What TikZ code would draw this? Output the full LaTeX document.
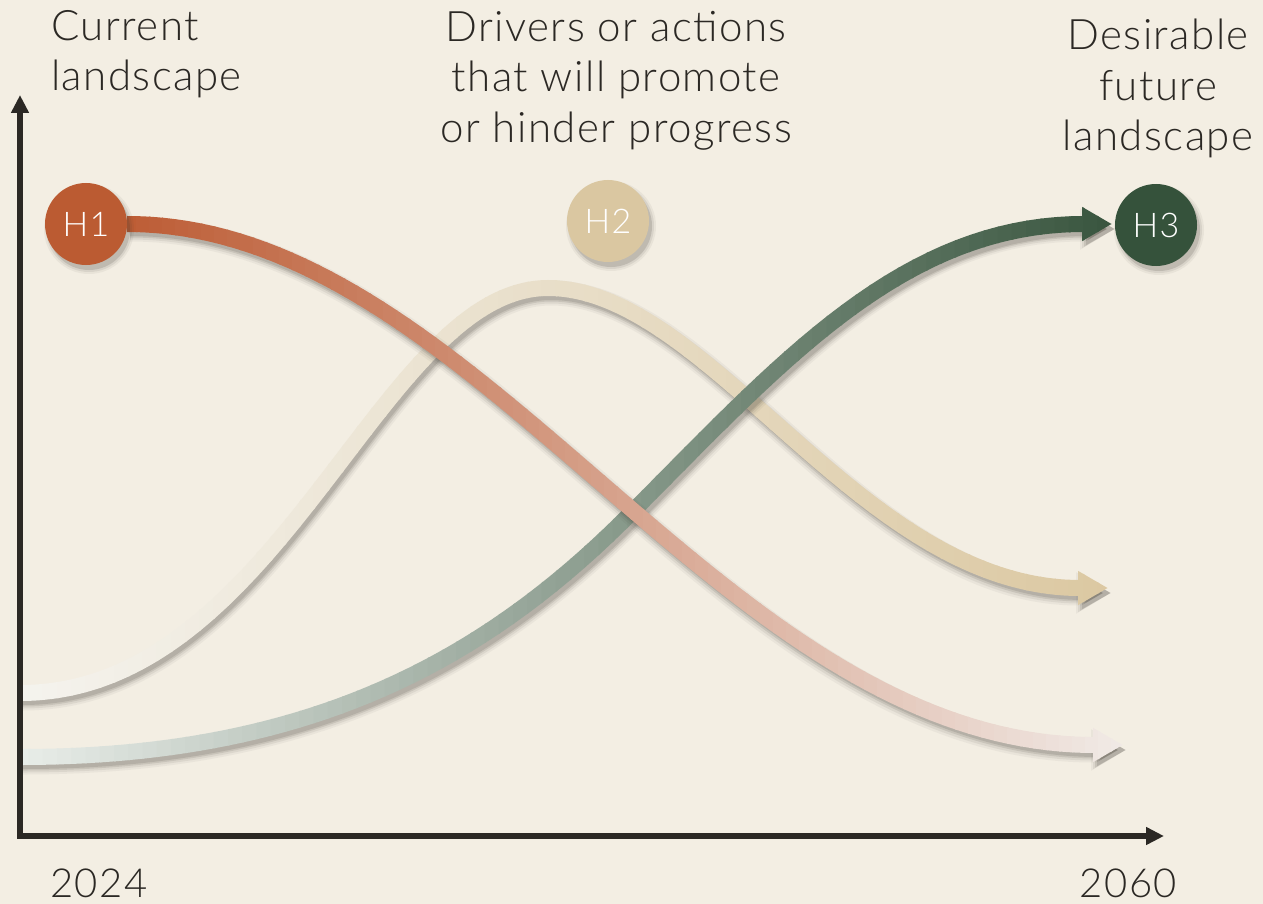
\documentclass[tikz,border=0pt]{standalone}
\usepackage{fontspec}
\setmainfont{Lato Light}[LetterSpace=3.5]
\usetikzlibrary{arrows.meta}
\definecolor{bg}{HTML}{F3EEE3}
\definecolor{ink}{HTML}{2B2824}
\definecolor{hOne}{HTML}{BB5B32}
\definecolor{hTwo}{HTML}{DAC7A1}
\definecolor{hThree}{HTML}{35523B}
\definecolor{rA}{HTML}{BC5A32}
\definecolor{rB}{HTML}{F2EEEB}
\definecolor{bA}{HTML}{F5F4F0}
\definecolor{bB}{HTML}{DBC79F}
\definecolor{gA}{HTML}{ECF0EC}
\definecolor{gB}{HTML}{34513A}
\definecolor{shadowc}{HTML}{3F3A33}
\tikzset{
  ribbon/.style={line width=16pt, -{Triangle[length=30pt,width=32pt]}},
  shad/.style={color=shadowc},
  hcirc/.style={circle, minimum size=82pt, inner sep=0pt, text=white, font=\fontsize{34}{34}\selectfont},
  axis/.style={line width=6pt, draw=ink, line join=miter},
  lbl/.style={text=ink, inner sep=0pt, font=\fontsize{42}{50.5}\selectfont},
  year/.style={text=ink, inner sep=0pt, font=\fontsize{40}{40}\selectfont},
}
\newcommand\gradribbon[5]{%
  \pgfmathsetmacro\stripw{(#5-#4)/80}%
  \foreach \k in {0,...,79}{%
    \pgfmathsetmacro\xa{#4+\stripw*\k}%
    \pgfmathsetmacro\xb{#4+\stripw*(\k+1)+1.5}%
    \pgfmathsetmacro\pc{1.25*(\k+0.5)}%
    \colorlet{stripc}{#3!\pc!#2}%
    \begin{scope}
      \clip (\xa,-20) rectangle (\xb,1000);
      \draw[ribbon, color=stripc] #1;
    \end{scope}}}
\newcommand\softshadow[1]{%
  \begin{scope}[transform canvas={shift={(3pt,-5pt)}}]
    \draw[shad, line width=25pt, opacity=.05, -{Triangle[length=35pt,width=39pt]}] #1;
    \draw[shad, line width=21pt, opacity=.08, -{Triangle[length=33pt,width=36pt]}] #1;
    \draw[shad, line width=17pt, opacity=.12, -{Triangle[length=31pt,width=33pt]}] #1;
    \draw[shad, line width=14pt, opacity=.14, -{Triangle[length=29pt,width=30pt]}] #1;
  \end{scope}}
\begin{document}
\begin{tikzpicture}[x=1pt,y=-1pt]
\fill[bg] (0,0) rectangle (1263,904);
\useasboundingbox (0,0) rectangle (1263,904);
% key points
\coordinate (h1c) at (86,224);
\coordinate (h2c) at (608,221);
\coordinate (h3c) at (1156,225);
\coordinate (r0) at (127,224);
\coordinate (r1) at (1123,745);
\coordinate (b0) at (20,693);
\coordinate (bp) at (548,288);
\coordinate (b1) at (1108,588);
\coordinate (g0) at (20,757);
\coordinate (gm) at (627,517);
\coordinate (g1) at (1112,224);
\coordinate (O) at (20,836);
\coordinate (ytop) at (20,95);
\coordinate (xend) at (1164,836);
\newcommand\pathRed{(r0) .. controls (480,224) and (720,745) .. (r1)}
\newcommand\pathBeige{(b0) .. controls (280,693) and (380,288) .. (bp) .. controls (710,288) and (860,588) .. (b1)}
\newcommand\pathGreen{(g0) .. controls (300,757) and (477,667) .. (gm) .. controls (777,367) and (900,224) .. (g1)}
% H2 ribbon (bottom)
\softshadow{\pathBeige}
\gradribbon{\pathBeige}{bA}{bB}{0}{1140}
% H3 ribbon
\softshadow{\pathGreen}
\gradribbon{\pathGreen}{gA}{gB}{0}{1140}
% H1 ribbon (top)
\softshadow{\pathRed}
\gradribbon{\pathRed}{rA}{rB}{110}{1150}
% axes
\draw[axis, {Triangle[length=18pt,width=17pt]}-{Triangle[length=18pt,width=17pt]}] (ytop) -- (O) -- (xend);
% circle shadows
\begin{scope}[transform canvas={shift={(3pt,-5pt)}}]
  \foreach \c in {h1c,h2c,h3c}{%
    \fill[shad, opacity=.06] (\c) circle[radius=45];
    \fill[shad, opacity=.09] (\c) circle[radius=43];
    \fill[shad, opacity=.16] (\c) circle[radius=41];}
\end{scope}
\node[hcirc, fill=hOne] (h1) at (h1c) {H1};
\node[hcirc, fill=hTwo] (h2) at (h2c) {H2};
\node[hcirc, fill=hThree] (h3) at (h3c) {H3};
% texts
\node[lbl, anchor=north west, align=left] (cur) at (51,10) {Current\\landscape};
\node[lbl, anchor=north, align=center] (drv) at (616,11) {Drivers or actions\\that will promote\\or hinder progress};
\node[lbl, anchor=north, align=center] (fut) at (1158,19) {Desirable\\future\\landscape};
\node[year, anchor=base west] (y0) at (50,897) {2024};
\node[year, anchor=base east] (y1) at (1177,897) {2060};
\end{tikzpicture}
\end{document}
